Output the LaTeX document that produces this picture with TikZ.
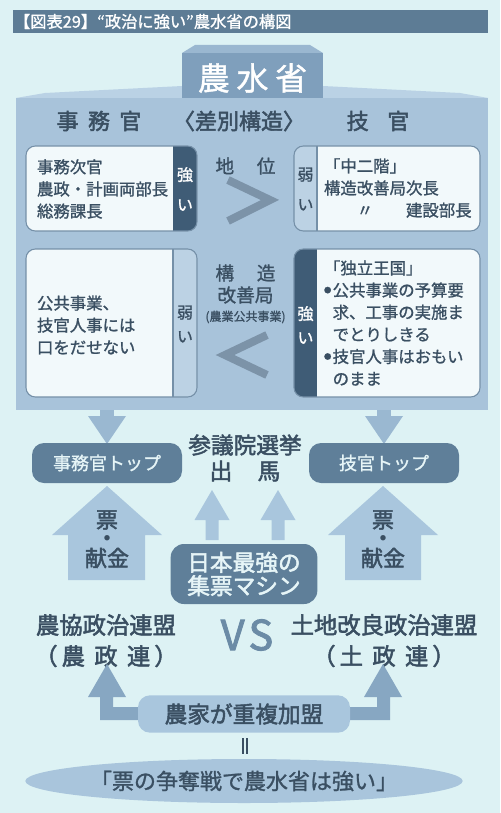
\documentclass[tikz,border=0pt]{standalone}
\usepackage{fontspec}
\setmainfont{Noto Sans CJK JP}
\newfontfamily\medfont{Noto Sans CJK JP}[FakeBold=1.2]
\newfontfamily\semifont{Noto Sans CJK JP}[FakeBold=2.2]
\usetikzlibrary{shapes.geometric,calc}
\definecolor{bg}{HTML}{DDF2F4}
\definecolor{titlebar}{HTML}{5D7C95}
\definecolor{bodyc}{HTML}{A8C3DA}
\definecolor{roofc}{HTML}{BAD2E5}
\definecolor{blockc}{HTML}{7F9FBC}
\definecolor{blockroof}{HTML}{9AB7D0}
\definecolor{boxw}{HTML}{F2F9FB}
\definecolor{boxedge}{HTML}{7590A8}
\definecolor{stripd}{HTML}{3F5C76}
\definecolor{stripl}{HTML}{BCD2E4}
\definecolor{txtc}{HTML}{3A4F62}
\definecolor{chev}{HTML}{7C93A8}
\definecolor{darkbox}{HTML}{5F7F99}
\definecolor{lightarrow}{HTML}{A9C6DD}
\definecolor{downarrow}{HTML}{9AB8D1}
\definecolor{midarrow}{HTML}{87A7C2}
\definecolor{lighttxt}{HTML}{E6F5F7}
\definecolor{vsc}{HTML}{6B8BA6}
\definecolor{ellc}{HTML}{A9C5DC}
\newcommand{\blt}{\makebox[6.5pt][l]{\raisebox{2.6pt}{\fontsize{5.5}{6}\selectfont ●}}}
\newcommand{\ind}{\hspace{6.5pt}}
\tikzset{
  every node/.style={inner sep=0pt, outer sep=0pt},
  hdr/.style={text=txtc, font=\fontsize{16.5}{18}\selectfont\semifont},
  boxtxt/.style={text=txtc, align=left, anchor=west, font=\fontsize{12.3}{16.6}\selectfont\medfont},
  striptxt/.style={align=center, font=\fontsize{12}{22.5}\selectfont\medfont},
  striptxtb/.style={align=center, font=\fontsize{12}{18}\selectfont\medfont},
  midtxt/.style={text=txtc, font=\fontsize{14}{16}\selectfont\medfont},
  panel/.style={draw=boxedge, line width=0.8pt, rounded corners=7pt},
  chevron/.style={draw=chev, line width=6pt, line join=miter},
  topbox/.style={fill=darkbox, rounded corners=9pt, text=lighttxt, font=\fontsize{13.5}{15}\selectfont\medfont},
  bigtxt/.style={text=txtc, align=center, font=\fontsize{17}{20}\selectfont\semifont},
  uptxt/.style={text=txtc, align=center, font=\fontsize{16.5}{14}\selectfont\semifont},
  leaguetxt/.style={text=txtc, font=\fontsize{17.5}{19}\selectfont\semifont},
}
\begin{document}
\begin{tikzpicture}[x=0.75pt,y=-0.75pt]
\useasboundingbox (0,0) rectangle (500,813);
\fill[bg] (0,0) rectangle (500,813);
% title bar
\fill[titlebar] (13,10) rectangle (488,33);
\node[anchor=west, text=white, font=\fontsize{12.2}{14}\selectfont\medfont] (title) at (14,21.5) {【図表29】“政治に強い”農水省の構図};
% building
\fill[bodyc] (16,98) rectangle (488,410);
\fill[roofc] (16,98) -- (45,93) -- (182,86) -- (182,98) -- cycle;
\fill[roofc] (323,98) -- (323,86) -- (460,93) -- (488,98) -- cycle;
\fill[blockc] (182,53) rectangle (323,98);
\fill[blockroof] (182,53) -- (195,45) -- (310,45) -- (323,53) -- cycle;
\node[text=white, font=\fontsize{24}{26}\selectfont\medfont] (mof) at (252.5,78) {農\hspace{5pt}水\hspace{5pt}省};
% header
\node[hdr] (jimu) at (99,121) {事\hspace{7pt}務\hspace{7pt}官};
\node[hdr] (sabetsu) at (239,121) {〈差別構造〉};
\node[hdr] (gikan) at (378,121) {技\hspace{14pt}官};
% upper left panel
\fill[boxw, rounded corners=7pt] (26,146) rectangle (197,231);
\begin{scope}
\clip[rounded corners=7pt] (26,146) rectangle (197,231);
\fill[stripd] (173,146) rectangle (197,231);
\end{scope}
\draw[panel] (26,146) rectangle (197,231);
\node[boxtxt] (ul) at (37,189) {事務次官\\農政・計画両部長\\総務課長};
\node[striptxt, text=white] (ulstrip) at (185,189) {強\\い};
% upper right panel
\fill[boxw, rounded corners=7pt] (294,146) rectangle (480,231);
\begin{scope}
\clip[rounded corners=7pt] (294,146) rectangle (480,231);
\fill[stripl] (294,146) rectangle (317,231);
\end{scope}
\draw[panel] (294,146) rectangle (480,231);
\draw[boxedge, line width=0.8pt] (317,146) -- (317,231);
\node[boxtxt] (ur) at (324,188) {「中二階」\\構造改善局次長\\　　〃　　建設部長};
\node[striptxt, text=txtc] (urstrip) at (305.5,189) {弱\\い};
% lower left panel
\fill[boxw, rounded corners=7pt] (26,249) rectangle (197,397);
\begin{scope}
\clip[rounded corners=7pt] (26,249) rectangle (197,397);
\fill[stripl] (173,249) rectangle (197,397);
\end{scope}
\draw[panel] (26,249) rectangle (197,397);
\draw[boxedge, line width=0.8pt] (173,249) -- (173,397);
\node[boxtxt] (ll) at (37,325) {公共事業、\\技官人事には\\口をだせない};
\node[striptxtb, text=txtc] (llstrip) at (185,324) {弱\\い};
% lower right panel
\fill[boxw, rounded corners=7pt] (294,249) rectangle (480,397);
\begin{scope}
\clip[rounded corners=7pt] (294,249) rectangle (480,397);
\fill[stripd] (294,249) rectangle (317,397);
\end{scope}
\draw[panel] (294,249) rectangle (480,397);
\node[boxtxt] (lr) at (324,323) {「独立王国」\\\blt 公共事業の予算要\\\ind 求、工事の実施ま\\\ind でとりしきる\\\blt 技官人事はおもい\\\ind のまま};
\node[striptxtb, text=white] (lrstrip) at (305.5,325) {強\\い};
% middle labels
\node[midtxt] (chii) at (245.5,166) {地\hspace{17pt}位};
\draw[chevron] (228,180) -- (270,200) -- (228,221);
\node[midtxt] (kz1) at (245.5,273) {構\hspace{17pt}造};
\node[midtxt] (kz2) at (245.5,295) {改善局};
\node[text=txtc, font=\fontsize{9}{10}\selectfont\medfont] (kz3) at (245.5,317) {(農業公共事業)};
\draw[chevron] (267,335) -- (225,355) -- (267,375);
% down arrows
\fill[downarrow] (100,410) rectangle (114,416);
\fill[downarrow] (88,416) -- (126,416) -- (107,444) -- cycle;
\fill[downarrow] (377,410) rectangle (391,416);
\fill[downarrow] (365,416) -- (403,416) -- (384,444) -- cycle;
% top boxes
\node[topbox, minimum width=112.5pt, minimum height=30pt] (jtop) at (107,463) {事務官トップ};
\node[topbox, minimum width=112.5pt, minimum height=30pt] (gtop) at (384,463) {技官トップ};
\node[bigtxt] (sangiin) at (245,445) {参議院選挙};
\node[bigtxt] (shutsuba) at (245,471) {出\hspace{19pt}馬};
% big up arrows
\fill[lightarrow] (107,486) -- (162,535) -- (145,535) -- (145,580) -- (68,580) -- (68,535) -- (52,535) -- cycle;
\fill[lightarrow] (383,486) -- (438,535) -- (421,535) -- (421,580) -- (345,580) -- (345,535) -- (328,535) -- cycle;
\node[uptxt] (hyo1) at (107,520) {票};
\node[text=txtc, font=\fontsize{4.5}{5}\selectfont] (dot1) at (107,538) {●};
\node[uptxt] (ken1) at (107,558) {献金};
\node[uptxt] (hyo2) at (383,520) {票};
\node[text=txtc, font=\fontsize{4.5}{5}\selectfont] (dot2) at (383,538) {●};
\node[uptxt] (ken2) at (383,558) {献金};
% small up arrows
\fill[lightarrow] (212,490) -- (229.5,520) -- (218.5,520) -- (218.5,540) -- (205.5,540) -- (205.5,520) -- (194.5,520) -- cycle;
\fill[lightarrow] (278,490) -- (295.5,520) -- (284.5,520) -- (284.5,540) -- (271.5,540) -- (271.5,520) -- (260.5,520) -- cycle;
% machine box
\node[fill=darkbox, rounded corners=10pt, minimum width=110pt, minimum height=45pt, text=lighttxt, align=center, font=\fontsize{17}{17.5}\selectfont\semifont] (machine) at (244,574) {日本最強の\\集票マシン};
% leagues
\node[leaguetxt] (noseiren) at (106,625) {農協政治連盟};
\node[leaguetxt] (noseiren2) at (106,656) {（\hspace{3pt}農\hspace{7pt}政\hspace{7pt}連\hspace{3pt}）};
\node[text=vsc, font=\fontsize{31}{32}\selectfont\semifont] (vs) at (247,635) {V\hspace{3pt}S};
\node[leaguetxt] (doseiren) at (384,625) {土地改良政治連盟};
\node[leaguetxt] (doseiren2) at (384,656) {（\hspace{3pt}土\hspace{7pt}政\hspace{7pt}連\hspace{3pt}）};
% elbow arrows
\fill[midarrow] (107,664) -- (126,697) -- (113,697) -- (113,707) -- (150,707) -- (150,720) -- (100,720) -- (100,697) -- (88,697) -- cycle;
\fill[midarrow] (383,664) -- (402,697) -- (390,697) -- (390,720) -- (340,720) -- (340,707) -- (377,707) -- (377,697) -- (364,697) -- cycle;
\node[fill=lightarrow, rounded corners=9pt, minimum width=159pt, minimum height=28pt, text=txtc, font=\fontsize{17}{18}\selectfont\semifont] (noka) at (244,714) {農家が重複加盟};
% equals
\coordinate (eqa) at (245,738);
\draw[txtc, line width=1pt] (243,738) -- (243,754) (247,738) -- (247,754);
% ellipse
\node[ellipse, fill=ellc, minimum width=328pt, minimum height=33pt, text=txtc, font=\fontsize{16.5}{18}\selectfont\medfont] (concl) at (244,781) {「票の争奪戦で農水省は強い」};
\end{tikzpicture}
\end{document}
